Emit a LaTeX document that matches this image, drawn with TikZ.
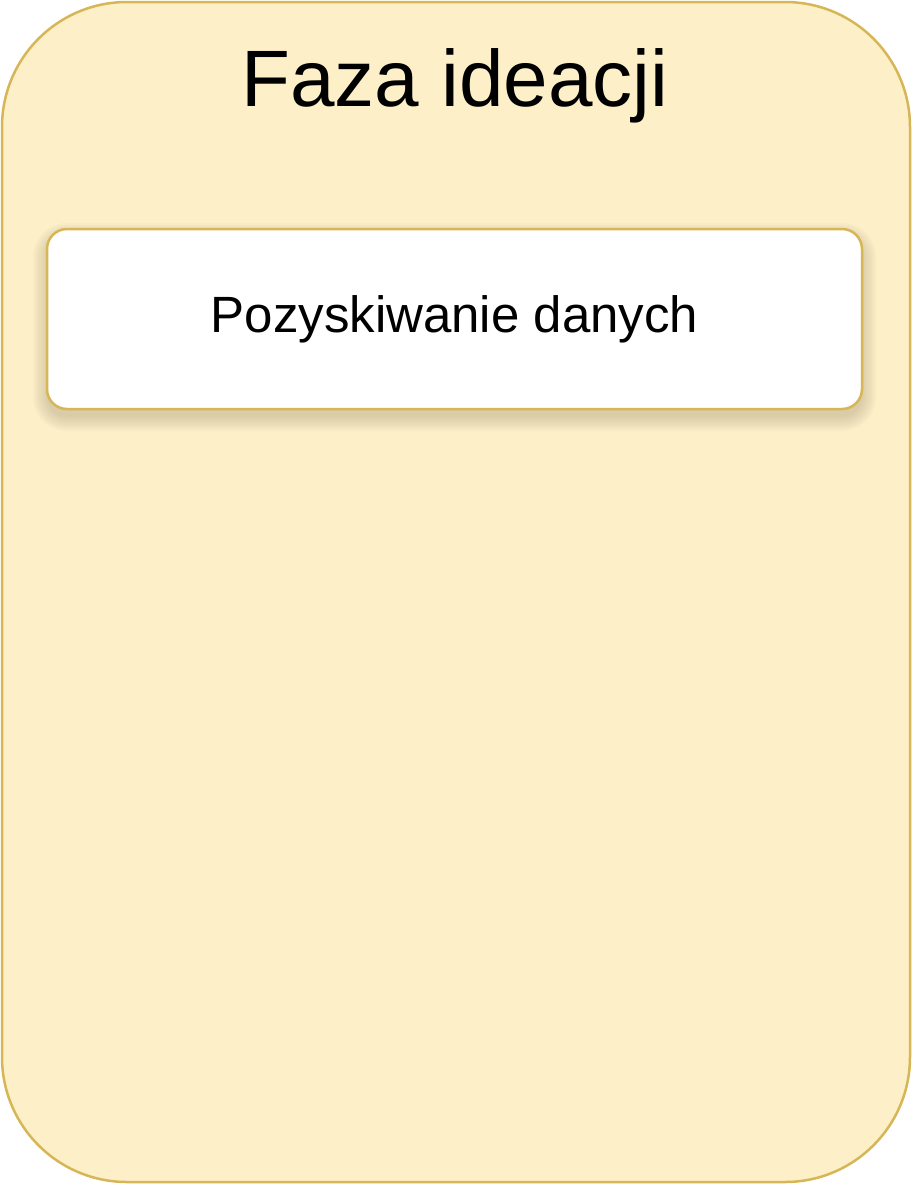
\documentclass[tikz,border=0pt]{standalone}
\usepackage{fontspec}
\setmainfont{Liberation Sans}
\definecolor{outerfill}{HTML}{FDEFC8}
\definecolor{goldline}{HTML}{D6B656}
\tikzset{
  phase/.style={draw=goldline, line width=2.5pt, fill=outerfill, rounded corners=125pt},
  stepbox/.style={draw=goldline, line width=2.5pt, fill=white, rounded corners=20pt,
    minimum width=815pt, minimum height=180pt, inner sep=0pt},
  softshadow/.style={fill=black!70!goldline, fill opacity=0.025, draw=none},
}
\begin{document}
\begin{tikzpicture}[x=1pt,y=-1pt]
\useasboundingbox (0,0) rectangle (912,1184);
\draw[phase] (2,2) rectangle (910,1182);
\node[font=\fontsize{80}{90}\selectfont] (title) at (455,86) {Faza ideacji};
\foreach \e in {14,12,...,0}{
  \fill[softshadow, rounded corners={20pt+\e pt}] ({47-\e},{237-\e}) rectangle ({862+\e},{417+\e});
}
\node[stepbox, font=\fontsize{51}{60}\selectfont] (data) at (454.5,319) {Pozyskiwanie danych};
\end{tikzpicture}
\end{document}
